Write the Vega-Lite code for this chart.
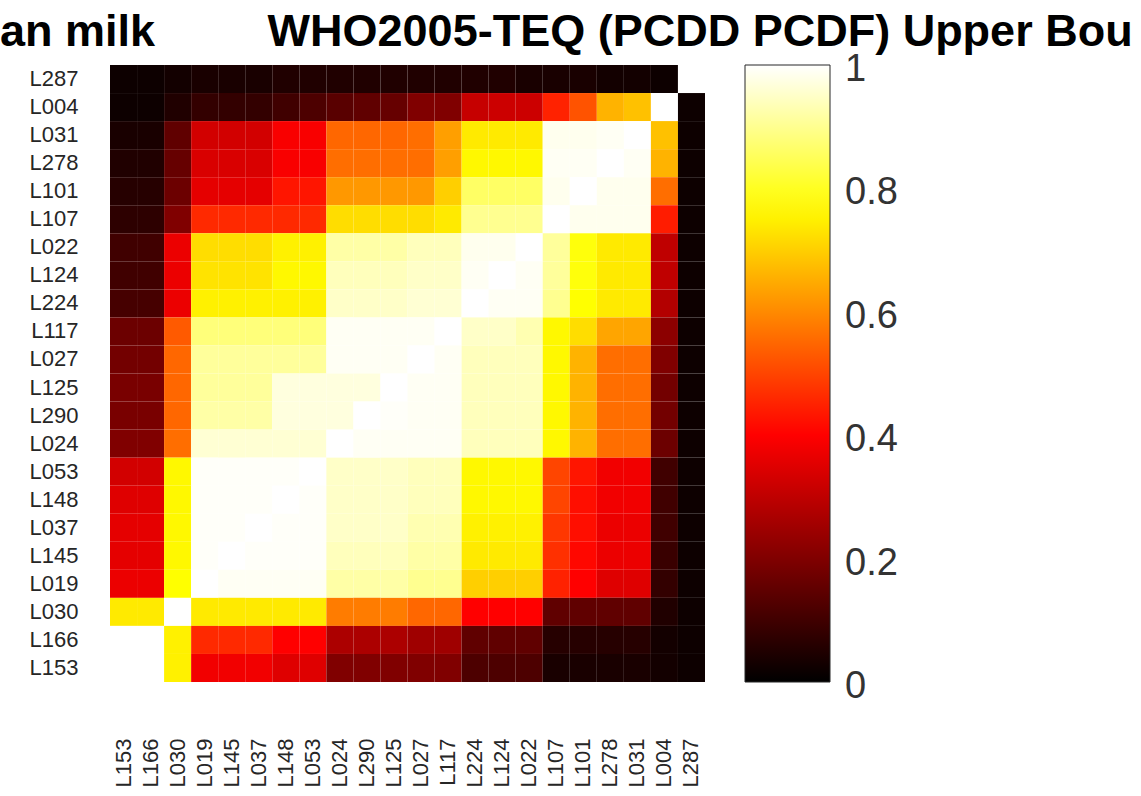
{
  "$schema": "https://vega.github.io/schema/vega-lite/v6.json",
  "autosize": "none",
  "width": 595,
  "height": 617,
  "padding": {"left": 110, "top": 65, "right": 436, "bottom": 114},
  "background": "#ffffff",
  "config": {"font": "Liberation Sans", "view": {"stroke": null}},
  "title": {
    "text": "an milk\u00a0\u00a0\u00a0\u00a0\u00a0\u00a0\u00a0\u00a0\u00a0WHO2005-TEQ (PCDD PCDF) Upper Bou",
    "anchor": "start", "frame": "group", "dx": -110, "dy": 41, "fontSize": 45, "fontWeight": "bold",
    "color": "#000000", "baseline": "alphabetic", "offset": 15
  },
  "data": {"values": [
{"x":"L153","y":"L287","v":0.02},{"x":"L166","y":"L287","v":0.02},{"x":"L030","y":"L287","v":0.03},{"x":"L019","y":"L287","v":0.04},{"x":"L145","y":"L287","v":0.04},{"x":"L037","y":"L287","v":0.04},{"x":"L148","y":"L287","v":0.05},{"x":"L053","y":"L287","v":0.05},{"x":"L024","y":"L287","v":0.05},{"x":"L290","y":"L287","v":0.05},{"x":"L125","y":"L287","v":0.05},{"x":"L027","y":"L287","v":0.05},{"x":"L117","y":"L287","v":0.05},{"x":"L224","y":"L287","v":0.05},{"x":"L124","y":"L287","v":0.05},{"x":"L022","y":"L287","v":0.04},{"x":"L107","y":"L287","v":0.04},{"x":"L101","y":"L287","v":0.04},{"x":"L278","y":"L287","v":0.03},{"x":"L031","y":"L287","v":0.03},{"x":"L004","y":"L287","v":0.02},{"x":"L287","y":"L287","v":1},
{"x":"L153","y":"L004","v":0.02},{"x":"L166","y":"L004","v":0.02},{"x":"L030","y":"L004","v":0.05},{"x":"L019","y":"L004","v":0.08},{"x":"L145","y":"L004","v":0.08},{"x":"L037","y":"L004","v":0.08},{"x":"L148","y":"L004","v":0.1},{"x":"L053","y":"L004","v":0.12},{"x":"L024","y":"L004","v":0.14},{"x":"L290","y":"L004","v":0.15},{"x":"L125","y":"L004","v":0.16},{"x":"L027","y":"L004","v":0.2},{"x":"L117","y":"L004","v":0.2},{"x":"L224","y":"L004","v":0.31},{"x":"L124","y":"L004","v":0.32},{"x":"L022","y":"L004","v":0.32},{"x":"L107","y":"L004","v":0.45},{"x":"L101","y":"L004","v":0.52},{"x":"L278","y":"L004","v":0.66},{"x":"L031","y":"L004","v":0.68},{"x":"L004","y":"L004","v":1},{"x":"L287","y":"L004","v":0.02},
{"x":"L153","y":"L031","v":0.04},{"x":"L166","y":"L031","v":0.04},{"x":"L030","y":"L031","v":0.15},{"x":"L019","y":"L031","v":0.33},{"x":"L145","y":"L031","v":0.33},{"x":"L037","y":"L031","v":0.33},{"x":"L148","y":"L031","v":0.39},{"x":"L053","y":"L031","v":0.39},{"x":"L024","y":"L031","v":0.55},{"x":"L290","y":"L031","v":0.55},{"x":"L125","y":"L031","v":0.55},{"x":"L027","y":"L031","v":0.56},{"x":"L117","y":"L031","v":0.63},{"x":"L224","y":"L031","v":0.74},{"x":"L124","y":"L031","v":0.74},{"x":"L022","y":"L031","v":0.74},{"x":"L107","y":"L031","v":0.985},{"x":"L101","y":"L031","v":0.985},{"x":"L278","y":"L031","v":0.99},{"x":"L031","y":"L031","v":1},{"x":"L004","y":"L031","v":0.68},{"x":"L287","y":"L031","v":0.02},
{"x":"L153","y":"L278","v":0.05},{"x":"L166","y":"L278","v":0.05},{"x":"L030","y":"L278","v":0.16},{"x":"L019","y":"L278","v":0.34},{"x":"L145","y":"L278","v":0.34},{"x":"L037","y":"L278","v":0.34},{"x":"L148","y":"L278","v":0.39},{"x":"L053","y":"L278","v":0.39},{"x":"L024","y":"L278","v":0.56},{"x":"L290","y":"L278","v":0.56},{"x":"L125","y":"L278","v":0.56},{"x":"L027","y":"L278","v":0.56},{"x":"L117","y":"L278","v":0.63},{"x":"L224","y":"L278","v":0.76},{"x":"L124","y":"L278","v":0.76},{"x":"L022","y":"L278","v":0.76},{"x":"L107","y":"L278","v":0.99},{"x":"L101","y":"L278","v":0.99},{"x":"L278","y":"L278","v":1},{"x":"L031","y":"L278","v":0.99},{"x":"L004","y":"L278","v":0.66},{"x":"L287","y":"L278","v":0.02},
{"x":"L153","y":"L101","v":0.06},{"x":"L166","y":"L101","v":0.06},{"x":"L030","y":"L101","v":0.17},{"x":"L019","y":"L101","v":0.36},{"x":"L145","y":"L101","v":0.36},{"x":"L037","y":"L101","v":0.36},{"x":"L148","y":"L101","v":0.43},{"x":"L053","y":"L101","v":0.43},{"x":"L024","y":"L101","v":0.62},{"x":"L290","y":"L101","v":0.62},{"x":"L125","y":"L101","v":0.62},{"x":"L027","y":"L101","v":0.62},{"x":"L117","y":"L101","v":0.7},{"x":"L224","y":"L101","v":0.86},{"x":"L124","y":"L101","v":0.86},{"x":"L022","y":"L101","v":0.86},{"x":"L107","y":"L101","v":0.985},{"x":"L101","y":"L101","v":1},{"x":"L278","y":"L101","v":0.985},{"x":"L031","y":"L101","v":0.985},{"x":"L004","y":"L101","v":0.56},{"x":"L287","y":"L101","v":0.02},
{"x":"L153","y":"L107","v":0.07},{"x":"L166","y":"L107","v":0.07},{"x":"L030","y":"L107","v":0.2},{"x":"L019","y":"L107","v":0.46},{"x":"L145","y":"L107","v":0.46},{"x":"L037","y":"L107","v":0.46},{"x":"L148","y":"L107","v":0.46},{"x":"L053","y":"L107","v":0.46},{"x":"L024","y":"L107","v":0.72},{"x":"L290","y":"L107","v":0.72},{"x":"L125","y":"L107","v":0.72},{"x":"L027","y":"L107","v":0.72},{"x":"L117","y":"L107","v":0.74},{"x":"L224","y":"L107","v":0.9},{"x":"L124","y":"L107","v":0.9},{"x":"L022","y":"L107","v":0.9},{"x":"L107","y":"L107","v":1},{"x":"L101","y":"L107","v":0.985},{"x":"L278","y":"L107","v":0.985},{"x":"L031","y":"L107","v":0.985},{"x":"L004","y":"L107","v":0.44},{"x":"L287","y":"L107","v":0.02},
{"x":"L153","y":"L022","v":0.1},{"x":"L166","y":"L022","v":0.1},{"x":"L030","y":"L022","v":0.37},{"x":"L019","y":"L022","v":0.72},{"x":"L145","y":"L022","v":0.72},{"x":"L037","y":"L022","v":0.72},{"x":"L148","y":"L022","v":0.75},{"x":"L053","y":"L022","v":0.75},{"x":"L024","y":"L022","v":0.92},{"x":"L290","y":"L022","v":0.92},{"x":"L125","y":"L022","v":0.92},{"x":"L027","y":"L022","v":0.94},{"x":"L117","y":"L022","v":0.94},{"x":"L224","y":"L022","v":0.985},{"x":"L124","y":"L022","v":0.985},{"x":"L022","y":"L022","v":1},{"x":"L107","y":"L022","v":0.91},{"x":"L101","y":"L022","v":0.78},{"x":"L278","y":"L022","v":0.74},{"x":"L031","y":"L022","v":0.74},{"x":"L004","y":"L022","v":0.3},{"x":"L287","y":"L022","v":0.02},
{"x":"L153","y":"L124","v":0.1},{"x":"L166","y":"L124","v":0.1},{"x":"L030","y":"L124","v":0.37},{"x":"L019","y":"L124","v":0.73},{"x":"L145","y":"L124","v":0.73},{"x":"L037","y":"L124","v":0.73},{"x":"L148","y":"L124","v":0.76},{"x":"L053","y":"L124","v":0.76},{"x":"L024","y":"L124","v":0.94},{"x":"L290","y":"L124","v":0.94},{"x":"L125","y":"L124","v":0.94},{"x":"L027","y":"L124","v":0.95},{"x":"L117","y":"L124","v":0.95},{"x":"L224","y":"L124","v":0.99},{"x":"L124","y":"L124","v":1},{"x":"L022","y":"L124","v":0.99},{"x":"L107","y":"L124","v":0.91},{"x":"L101","y":"L124","v":0.78},{"x":"L278","y":"L124","v":0.74},{"x":"L031","y":"L124","v":0.74},{"x":"L004","y":"L124","v":0.3},{"x":"L287","y":"L124","v":0.02},
{"x":"L153","y":"L224","v":0.11},{"x":"L166","y":"L224","v":0.11},{"x":"L030","y":"L224","v":0.37},{"x":"L019","y":"L224","v":0.75},{"x":"L145","y":"L224","v":0.75},{"x":"L037","y":"L224","v":0.75},{"x":"L148","y":"L224","v":0.75},{"x":"L053","y":"L224","v":0.75},{"x":"L024","y":"L224","v":0.95},{"x":"L290","y":"L224","v":0.95},{"x":"L125","y":"L224","v":0.95},{"x":"L027","y":"L224","v":0.96},{"x":"L117","y":"L224","v":0.96},{"x":"L224","y":"L224","v":1},{"x":"L124","y":"L224","v":0.99},{"x":"L022","y":"L224","v":0.99},{"x":"L107","y":"L224","v":0.9},{"x":"L101","y":"L224","v":0.77},{"x":"L278","y":"L224","v":0.74},{"x":"L031","y":"L224","v":0.74},{"x":"L004","y":"L224","v":0.28},{"x":"L287","y":"L224","v":0.02},
{"x":"L153","y":"L117","v":0.17},{"x":"L166","y":"L117","v":0.17},{"x":"L030","y":"L117","v":0.53},{"x":"L019","y":"L117","v":0.88},{"x":"L145","y":"L117","v":0.88},{"x":"L037","y":"L117","v":0.88},{"x":"L148","y":"L117","v":0.88},{"x":"L053","y":"L117","v":0.88},{"x":"L024","y":"L117","v":0.99},{"x":"L290","y":"L117","v":0.99},{"x":"L125","y":"L117","v":0.99},{"x":"L027","y":"L117","v":0.99},{"x":"L117","y":"L117","v":1},{"x":"L224","y":"L117","v":0.95},{"x":"L124","y":"L117","v":0.95},{"x":"L022","y":"L117","v":0.93},{"x":"L107","y":"L117","v":0.76},{"x":"L101","y":"L117","v":0.72},{"x":"L278","y":"L117","v":0.64},{"x":"L031","y":"L117","v":0.64},{"x":"L004","y":"L117","v":0.22},{"x":"L287","y":"L117","v":0.02},
{"x":"L153","y":"L027","v":0.18},{"x":"L166","y":"L027","v":0.18},{"x":"L030","y":"L027","v":0.55},{"x":"L019","y":"L027","v":0.91},{"x":"L145","y":"L027","v":0.91},{"x":"L037","y":"L027","v":0.91},{"x":"L148","y":"L027","v":0.91},{"x":"L053","y":"L027","v":0.91},{"x":"L024","y":"L027","v":0.99},{"x":"L290","y":"L027","v":0.99},{"x":"L125","y":"L027","v":0.99},{"x":"L027","y":"L027","v":1},{"x":"L117","y":"L027","v":0.99},{"x":"L224","y":"L027","v":0.94},{"x":"L124","y":"L027","v":0.94},{"x":"L022","y":"L027","v":0.94},{"x":"L107","y":"L027","v":0.76},{"x":"L101","y":"L027","v":0.66},{"x":"L278","y":"L027","v":0.56},{"x":"L031","y":"L027","v":0.56},{"x":"L004","y":"L027","v":0.2},{"x":"L287","y":"L027","v":0.02},
{"x":"L153","y":"L125","v":0.19},{"x":"L166","y":"L125","v":0.19},{"x":"L030","y":"L125","v":0.55},{"x":"L019","y":"L125","v":0.91},{"x":"L145","y":"L125","v":0.91},{"x":"L037","y":"L125","v":0.91},{"x":"L148","y":"L125","v":0.97},{"x":"L053","y":"L125","v":0.97},{"x":"L024","y":"L125","v":0.97},{"x":"L290","y":"L125","v":0.97},{"x":"L125","y":"L125","v":1},{"x":"L027","y":"L125","v":0.99},{"x":"L117","y":"L125","v":0.99},{"x":"L224","y":"L125","v":0.94},{"x":"L124","y":"L125","v":0.94},{"x":"L022","y":"L125","v":0.94},{"x":"L107","y":"L125","v":0.76},{"x":"L101","y":"L125","v":0.66},{"x":"L278","y":"L125","v":0.56},{"x":"L031","y":"L125","v":0.56},{"x":"L004","y":"L125","v":0.18},{"x":"L287","y":"L125","v":0.02},
{"x":"L153","y":"L290","v":0.19},{"x":"L166","y":"L290","v":0.19},{"x":"L030","y":"L290","v":0.55},{"x":"L019","y":"L290","v":0.92},{"x":"L145","y":"L290","v":0.92},{"x":"L037","y":"L290","v":0.92},{"x":"L148","y":"L290","v":0.97},{"x":"L053","y":"L290","v":0.97},{"x":"L024","y":"L290","v":0.97},{"x":"L290","y":"L290","v":1},{"x":"L125","y":"L290","v":0.995},{"x":"L027","y":"L290","v":0.99},{"x":"L117","y":"L290","v":0.99},{"x":"L224","y":"L290","v":0.94},{"x":"L124","y":"L290","v":0.94},{"x":"L022","y":"L290","v":0.94},{"x":"L107","y":"L290","v":0.76},{"x":"L101","y":"L290","v":0.66},{"x":"L278","y":"L290","v":0.56},{"x":"L031","y":"L290","v":0.56},{"x":"L004","y":"L290","v":0.18},{"x":"L287","y":"L290","v":0.02},
{"x":"L153","y":"L024","v":0.2},{"x":"L166","y":"L024","v":0.2},{"x":"L030","y":"L024","v":0.56},{"x":"L019","y":"L024","v":0.96},{"x":"L145","y":"L024","v":0.96},{"x":"L037","y":"L024","v":0.96},{"x":"L148","y":"L024","v":0.96},{"x":"L053","y":"L024","v":0.96},{"x":"L024","y":"L024","v":1},{"x":"L290","y":"L024","v":0.99},{"x":"L125","y":"L024","v":0.99},{"x":"L027","y":"L024","v":0.99},{"x":"L117","y":"L024","v":0.99},{"x":"L224","y":"L024","v":0.94},{"x":"L124","y":"L024","v":0.94},{"x":"L022","y":"L024","v":0.94},{"x":"L107","y":"L024","v":0.76},{"x":"L101","y":"L024","v":0.66},{"x":"L278","y":"L024","v":0.56},{"x":"L031","y":"L024","v":0.56},{"x":"L004","y":"L024","v":0.17},{"x":"L287","y":"L024","v":0.02},
{"x":"L153","y":"L053","v":0.33},{"x":"L166","y":"L053","v":0.33},{"x":"L030","y":"L053","v":0.76},{"x":"L019","y":"L053","v":0.995},{"x":"L145","y":"L053","v":0.995},{"x":"L037","y":"L053","v":0.995},{"x":"L148","y":"L053","v":0.995},{"x":"L053","y":"L053","v":1},{"x":"L024","y":"L053","v":0.95},{"x":"L290","y":"L053","v":0.95},{"x":"L125","y":"L053","v":0.95},{"x":"L027","y":"L053","v":0.94},{"x":"L117","y":"L053","v":0.94},{"x":"L224","y":"L053","v":0.76},{"x":"L124","y":"L053","v":0.76},{"x":"L022","y":"L053","v":0.76},{"x":"L107","y":"L053","v":0.5},{"x":"L101","y":"L053","v":0.43},{"x":"L278","y":"L053","v":0.38},{"x":"L031","y":"L053","v":0.38},{"x":"L004","y":"L053","v":0.1},{"x":"L287","y":"L053","v":0.02},
{"x":"L153","y":"L148","v":0.35},{"x":"L166","y":"L148","v":0.35},{"x":"L030","y":"L148","v":0.76},{"x":"L019","y":"L148","v":0.995},{"x":"L145","y":"L148","v":0.995},{"x":"L037","y":"L148","v":0.995},{"x":"L148","y":"L148","v":1},{"x":"L053","y":"L148","v":0.995},{"x":"L024","y":"L148","v":0.95},{"x":"L290","y":"L148","v":0.95},{"x":"L125","y":"L148","v":0.95},{"x":"L027","y":"L148","v":0.94},{"x":"L117","y":"L148","v":0.94},{"x":"L224","y":"L148","v":0.76},{"x":"L124","y":"L148","v":0.76},{"x":"L022","y":"L148","v":0.76},{"x":"L107","y":"L148","v":0.5},{"x":"L101","y":"L148","v":0.42},{"x":"L278","y":"L148","v":0.38},{"x":"L031","y":"L148","v":0.38},{"x":"L004","y":"L148","v":0.1},{"x":"L287","y":"L148","v":0.02},
{"x":"L153","y":"L037","v":0.36},{"x":"L166","y":"L037","v":0.36},{"x":"L030","y":"L037","v":0.76},{"x":"L019","y":"L037","v":0.995},{"x":"L145","y":"L037","v":0.995},{"x":"L037","y":"L037","v":1},{"x":"L148","y":"L037","v":0.995},{"x":"L053","y":"L037","v":0.995},{"x":"L024","y":"L037","v":0.95},{"x":"L290","y":"L037","v":0.95},{"x":"L125","y":"L037","v":0.95},{"x":"L027","y":"L037","v":0.93},{"x":"L117","y":"L037","v":0.93},{"x":"L224","y":"L037","v":0.75},{"x":"L124","y":"L037","v":0.75},{"x":"L022","y":"L037","v":0.75},{"x":"L107","y":"L037","v":0.48},{"x":"L101","y":"L037","v":0.42},{"x":"L278","y":"L037","v":0.37},{"x":"L031","y":"L037","v":0.37},{"x":"L004","y":"L037","v":0.1},{"x":"L287","y":"L037","v":0.02},
{"x":"L153","y":"L145","v":0.36},{"x":"L166","y":"L145","v":0.36},{"x":"L030","y":"L145","v":0.76},{"x":"L019","y":"L145","v":0.995},{"x":"L145","y":"L145","v":1},{"x":"L037","y":"L145","v":0.995},{"x":"L148","y":"L145","v":0.995},{"x":"L053","y":"L145","v":0.995},{"x":"L024","y":"L145","v":0.94},{"x":"L290","y":"L145","v":0.94},{"x":"L125","y":"L145","v":0.94},{"x":"L027","y":"L145","v":0.92},{"x":"L117","y":"L145","v":0.92},{"x":"L224","y":"L145","v":0.74},{"x":"L124","y":"L145","v":0.74},{"x":"L022","y":"L145","v":0.74},{"x":"L107","y":"L145","v":0.47},{"x":"L101","y":"L145","v":0.41},{"x":"L278","y":"L145","v":0.37},{"x":"L031","y":"L145","v":0.37},{"x":"L004","y":"L145","v":0.09},{"x":"L287","y":"L145","v":0.02},
{"x":"L153","y":"L019","v":0.37},{"x":"L166","y":"L019","v":0.37},{"x":"L030","y":"L019","v":0.77},{"x":"L019","y":"L019","v":1},{"x":"L145","y":"L019","v":0.99},{"x":"L037","y":"L019","v":0.99},{"x":"L148","y":"L019","v":0.99},{"x":"L053","y":"L019","v":0.99},{"x":"L024","y":"L019","v":0.92},{"x":"L290","y":"L019","v":0.92},{"x":"L125","y":"L019","v":0.92},{"x":"L027","y":"L019","v":0.9},{"x":"L117","y":"L019","v":0.9},{"x":"L224","y":"L019","v":0.7},{"x":"L124","y":"L019","v":0.7},{"x":"L022","y":"L019","v":0.7},{"x":"L107","y":"L019","v":0.45},{"x":"L101","y":"L019","v":0.4},{"x":"L278","y":"L019","v":0.35},{"x":"L031","y":"L019","v":0.35},{"x":"L004","y":"L019","v":0.08},{"x":"L287","y":"L019","v":0.02},
{"x":"L153","y":"L030","v":0.74},{"x":"L166","y":"L030","v":0.74},{"x":"L030","y":"L030","v":1},{"x":"L019","y":"L030","v":0.74},{"x":"L145","y":"L030","v":0.74},{"x":"L037","y":"L030","v":0.74},{"x":"L148","y":"L030","v":0.74},{"x":"L053","y":"L030","v":0.74},{"x":"L024","y":"L030","v":0.58},{"x":"L290","y":"L030","v":0.58},{"x":"L125","y":"L030","v":0.58},{"x":"L027","y":"L030","v":0.55},{"x":"L117","y":"L030","v":0.55},{"x":"L224","y":"L030","v":0.4},{"x":"L124","y":"L030","v":0.4},{"x":"L022","y":"L030","v":0.4},{"x":"L107","y":"L030","v":0.15},{"x":"L101","y":"L030","v":0.15},{"x":"L278","y":"L030","v":0.15},{"x":"L031","y":"L030","v":0.15},{"x":"L004","y":"L030","v":0.05},{"x":"L287","y":"L030","v":0.02},
{"x":"L153","y":"L166","v":1},{"x":"L166","y":"L166","v":1},{"x":"L030","y":"L166","v":0.75},{"x":"L019","y":"L166","v":0.46},{"x":"L145","y":"L166","v":0.46},{"x":"L037","y":"L166","v":0.46},{"x":"L148","y":"L166","v":0.4},{"x":"L053","y":"L166","v":0.4},{"x":"L024","y":"L166","v":0.27},{"x":"L290","y":"L166","v":0.27},{"x":"L125","y":"L166","v":0.27},{"x":"L027","y":"L166","v":0.25},{"x":"L117","y":"L166","v":0.25},{"x":"L224","y":"L166","v":0.15},{"x":"L124","y":"L166","v":0.15},{"x":"L022","y":"L166","v":0.15},{"x":"L107","y":"L166","v":0.06},{"x":"L101","y":"L166","v":0.06},{"x":"L278","y":"L166","v":0.06},{"x":"L031","y":"L166","v":0.06},{"x":"L004","y":"L166","v":0.03},{"x":"L287","y":"L166","v":0.02},
{"x":"L153","y":"L153","v":1},{"x":"L166","y":"L153","v":1},{"x":"L030","y":"L153","v":0.75},{"x":"L019","y":"L153","v":0.38},{"x":"L145","y":"L153","v":0.38},{"x":"L037","y":"L153","v":0.38},{"x":"L148","y":"L153","v":0.35},{"x":"L053","y":"L153","v":0.35},{"x":"L024","y":"L153","v":0.2},{"x":"L290","y":"L153","v":0.2},{"x":"L125","y":"L153","v":0.2},{"x":"L027","y":"L153","v":0.2},{"x":"L117","y":"L153","v":0.2},{"x":"L224","y":"L153","v":0.12},{"x":"L124","y":"L153","v":0.12},{"x":"L022","y":"L153","v":0.12},{"x":"L107","y":"L153","v":0.04},{"x":"L101","y":"L153","v":0.04},{"x":"L278","y":"L153","v":0.04},{"x":"L031","y":"L153","v":0.04},{"x":"L004","y":"L153","v":0.03},{"x":"L287","y":"L153","v":0.02}
  ]},
  "mark": {"type": "rect"},
  "encoding": {
    "x": {
      "field": "x", "type": "nominal",
      "sort": ["L153","L166","L030","L019","L145","L037","L148","L053","L024","L290","L125","L027","L117","L224","L124","L022","L107","L101","L278","L031","L004","L287"],
      "axis": {"title": null, "labelAngle": -90, "labelPadding": 56, "ticks": false, "domain": false, "labelFontSize": 22, "labelColor": "#262626", "labelFont": "Liberation Sans"}
    },
    "y": {
      "field": "y", "type": "nominal",
      "sort": ["L287","L004","L031","L278","L101","L107","L022","L124","L224","L117","L027","L125","L290","L024","L053","L148","L037","L145","L019","L030","L166","L153"],
      "axis": {"title": null, "labelPadding": 32, "ticks": false, "domain": false, "labelFontSize": 22, "labelColor": "#262626", "labelFont": "Liberation Sans"}
    },
    "color": {
      "field": "v", "type": "quantitative",
      "scale": {"domain": [0, 0.4, 0.77, 1], "range": ["#000000", "#ff0000", "#ffff00", "#ffffff"], "interpolate": "rgb"},
      "legend": {
        "title": null, "orient": "none", "legendX": 635, "legendY": 0, "direction": "vertical",
        "gradientLength": 617, "gradientThickness": 85, "gradientStrokeColor": "#262626", "gradientStrokeWidth": 1,
        "values": [0, 0.2, 0.4, 0.6, 0.8, 1], "format": "~g",
        "labelFontSize": 38, "labelOffset": 15, "labelColor": "#333333", "labelFont": "Liberation Sans",
        "encode": {"labels": {"update": {"baseline": {"value": "middle"}, "dy": {"value": 5}}}}
      }
    }
  }
}
